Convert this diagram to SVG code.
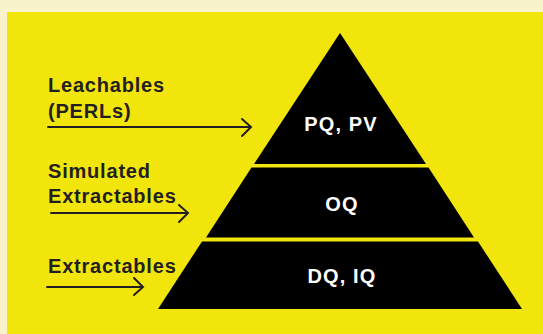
<svg xmlns="http://www.w3.org/2000/svg" width="543" height="334" viewBox="0 0 543 334">
  <defs>
    <style>
      .lbl { font-family: "Liberation Sans", Arial, sans-serif; font-weight: bold; font-size: 20px; fill: #231f20; letter-spacing: 0.8px; }
      .tier { fill: #000000; }
      .tt { font-family: "Liberation Sans", Arial, sans-serif; font-weight: bold; font-size: 20px; fill: #ffffff; text-anchor: middle; letter-spacing: 1.1px; }
      .arr { fill: none; stroke: #231f20; stroke-width: 2; stroke-linecap: round; stroke-linejoin: miter; }
    </style>
  </defs>
  <rect x="0" y="0" width="543" height="334" fill="#f8f3cb"/>
  <rect x="7" y="12" width="536" height="322" fill="#f2e50b"/>

  <g id="tier-top">
    <polygon class="tier" points="340,33 426,164 254,164"/>
    <text class="tt" x="341" y="131">PQ, PV</text>
  </g>
  <g id="tier-middle">
    <polygon class="tier" points="251.5,167.5 428.5,167.5 474,237.5 206,237.5"/>
    <text class="tt" x="342" y="211">OQ</text>
  </g>
  <g id="tier-bottom">
    <polygon class="tier" points="202,241.5 478,241.5 522,309 158,309"/>
    <text class="tt" x="342" y="283">DQ, IQ</text>
  </g>

  <g id="label-leachables">
    <text class="lbl" x="48" y="92">Leachables</text>
    <text class="lbl" x="48" y="118">(PERLs)</text>
  </g>
  <g id="label-simulated">
    <text class="lbl" x="48" y="178">Simulated</text>
    <text class="lbl" x="48" y="203">Extractables</text>
  </g>
  <g id="label-extractables">
    <text class="lbl" x="48" y="273">Extractables</text>
  </g>

  <g id="connectors">
    <path class="arr" d="M48,127 H251 M242,119 L251,127 L242,136"/>
    <path class="arr" d="M51,213 H188 M179,205 L188,213 L179,222"/>
    <path class="arr" d="M47,287 H143 M134,278 L143,287 L134,295"/>
  </g>
</svg>
